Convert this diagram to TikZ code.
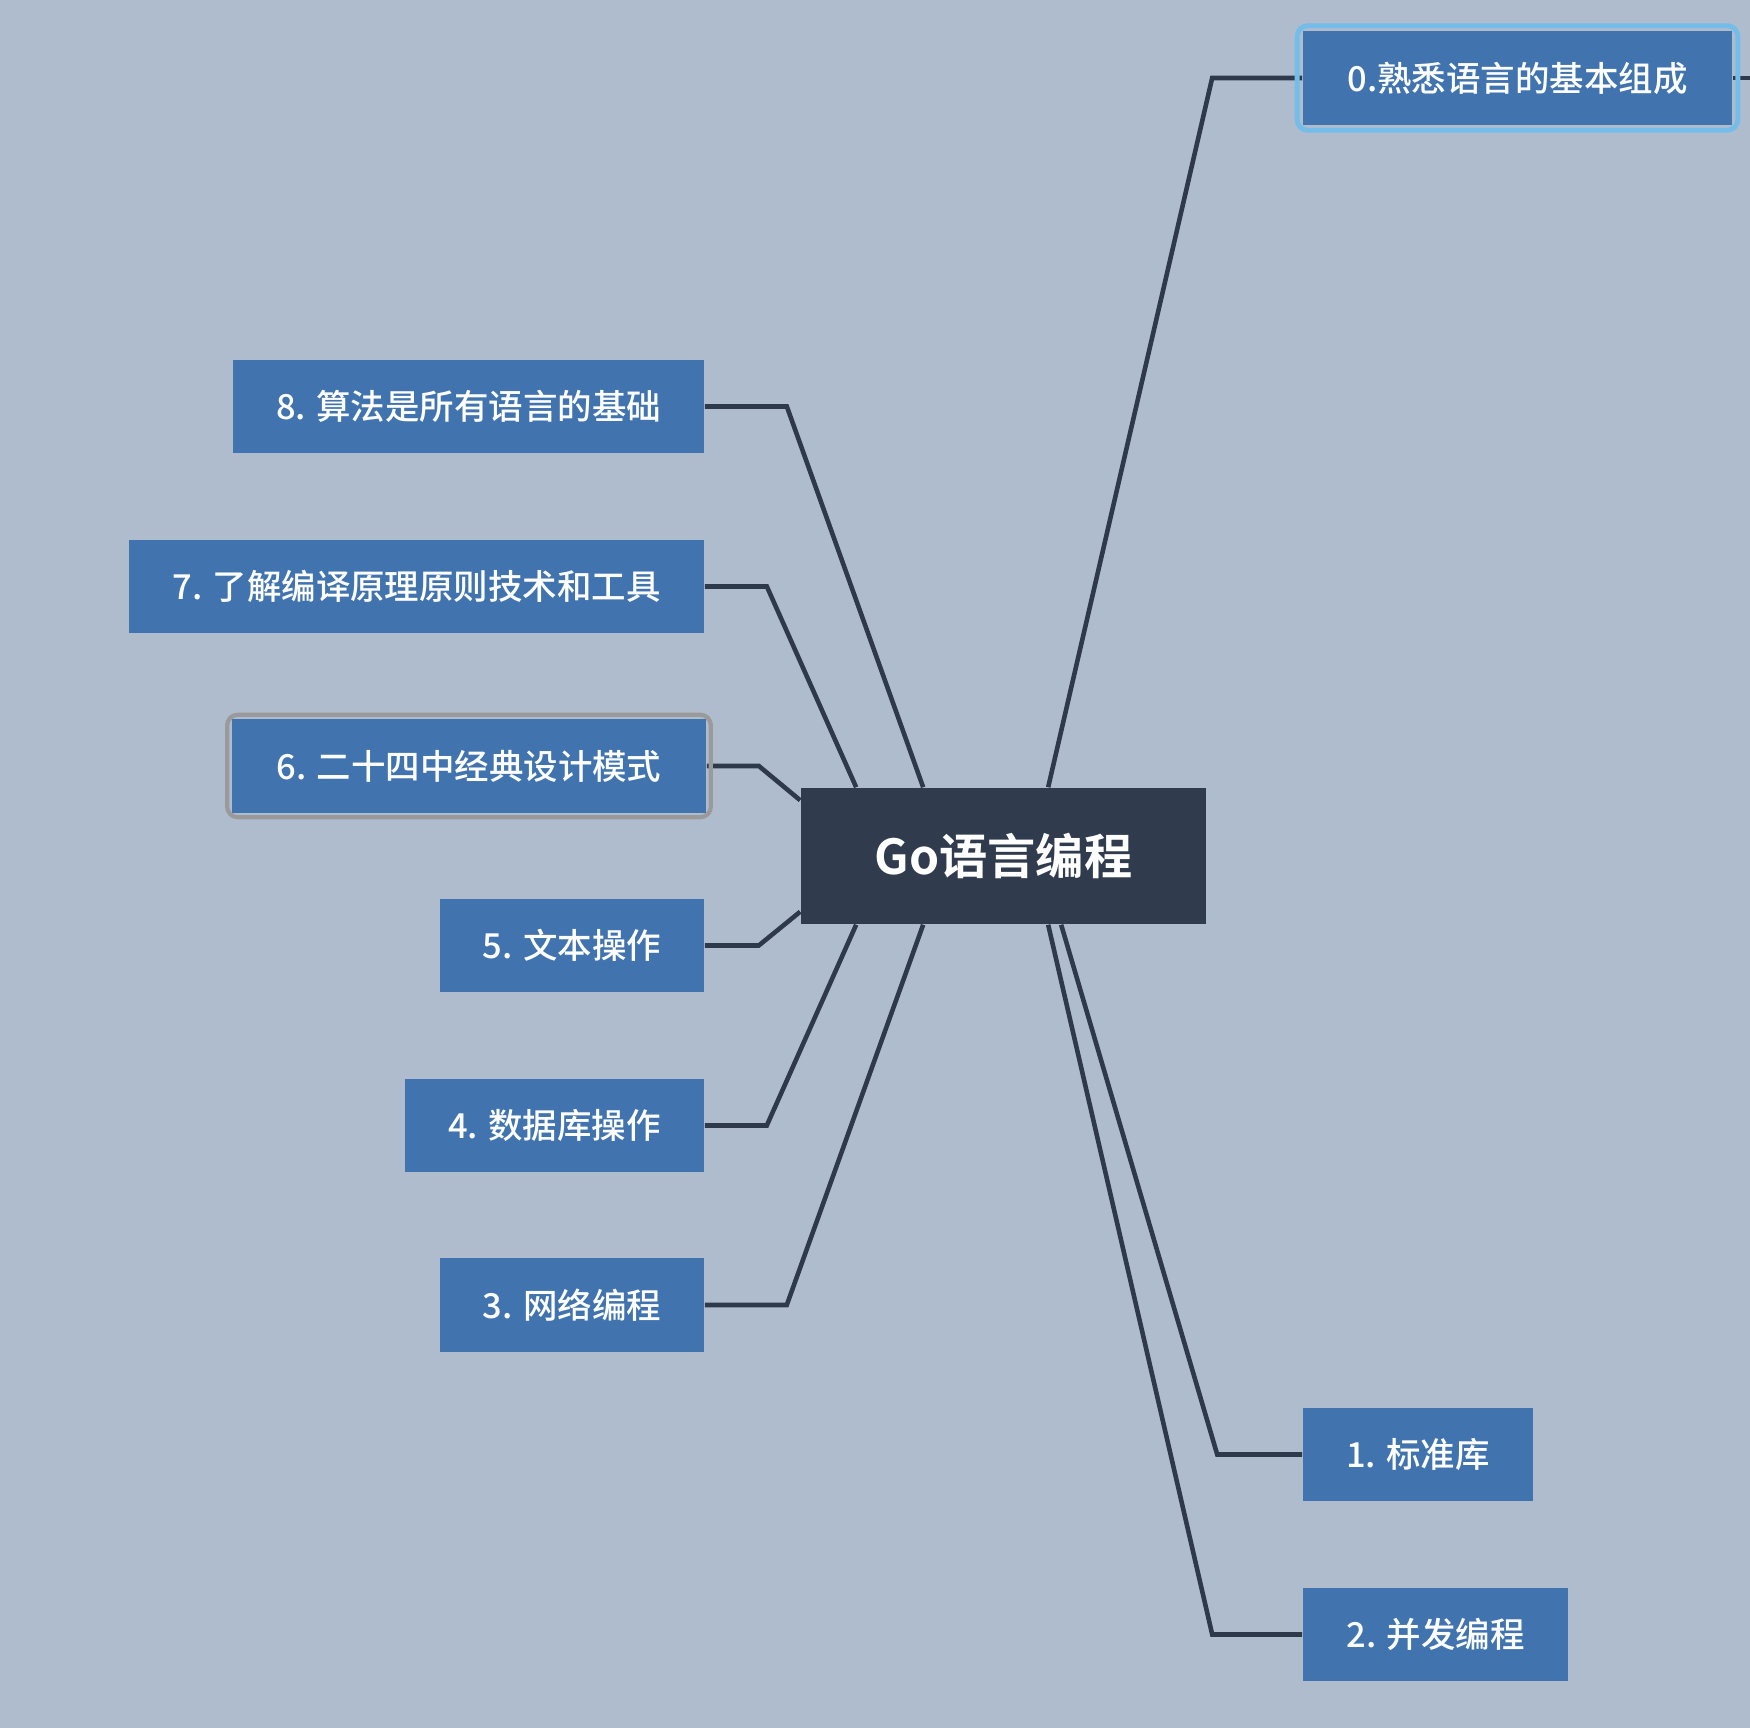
\documentclass[tikz,border=0pt]{standalone}
\usepackage{fontspec}
\setmainfont{Noto Sans CJK SC}[BoldFont={Noto Sans CJK SC Bold}]
\newfontfamily\topicfont{Noto Sans CJK SC Medium}
\usetikzlibrary{calc}
\definecolor{bgcol}{HTML}{AFBCCD}
\definecolor{topicblue}{HTML}{4174AE}
\definecolor{rootdark}{HTML}{303C4D}
\definecolor{linedark}{HTML}{2E3A4B}
\definecolor{selblue}{HTML}{74BDE8}
\definecolor{selgray}{HTML}{9A9A9A}
\begin{document}
\begin{tikzpicture}[x=0.01cm, y=-0.01cm,
            every node/.style = {inner sep=0pt, text=white},
            topic/.style = {fill=topicblue, minimum height=0.93cm,
                font=\topicfont\fontsize{9.8}{12}\selectfont},
            root/.style = {fill=rootdark, minimum width=4.05cm, minimum height=1.36cm,
                font=\fontsize{13.7}{16}\selectfont\bfseries},
            branch/.style = {draw=linedark, line width=1.3pt}]
            \fill[bgcol] (0,0) rectangle (1750,1728);
            \useasboundingbox (0,0) rectangle (1750,1728);
            \clip (0,0) rectangle (1750,1728);
            \node[root] (go) at (1003.5,856) {Go语言编程};
            \node[topic, minimum width=4.29cm] (t0) at (1517.5,78) {0.熟悉语言的基本组成};
            \node[topic, minimum width=2.30cm] (t1) at (1418,1454.5) {1. 标准库};
            \node[topic, minimum width=2.65cm] (t2) at (1435.5,1634.5) {2. 并发编程};
            \node[topic, minimum width=2.64cm] (t3) at (572,1305) {3. 网络编程};
            \node[topic, minimum width=2.99cm] (t4) at (554.5,1125.5) {4. 数据库操作};
            \node[topic, minimum width=2.64cm] (t5) at (572,945.5) {5. 文本操作};
            \node[topic, minimum width=4.74cm] (t6) at (469,766) {6. 二十四中经典设计模式};
            \node[topic, minimum width=5.75cm] (t7) at (416.5,586.5) {7. 了解编译原理原则技术和工具};
            \node[topic, minimum width=4.71cm] (t8) at (468.5,406.5) {8. 算法是所有语言的基础};
            \draw[branch] (t0.west) -- ++(-90,0) -- ($(go.north west)+(248,0)$);
            \draw[branch] (t1.west) -- ++(-85,0) -- ($(go.south west)+(261,0)$);
            \draw[branch] (t2.west) -- ++(-90,0) -- ($(go.south west)+(248,0)$);
            \draw[branch] (t3.east) -- ++(82,0) -- ($(go.south west)+(123,0)$);
            \draw[branch] (t4.east) -- ++(62,0) -- ($(go.south west)+(56,0)$);
            \draw[branch] (t5.east) -- ++(54,0) -- ($(go.south west)+(0,-13)$);
            \draw[branch] (t6.east) -- ++(52,0) -- ($(go.north west)+(0,13)$);
            \draw[branch] (t7.east) -- ++(62,0) -- ($(go.north west)+(56,0)$);
            \draw[branch] (t8.east) -- ++(82,0) -- ($(go.north west)+(123,0)$);
            \draw[branch] (t0.east) -- ++(24,0) coordinate (t0end);
            \draw[branch, fill=bgcol] ($(t0end)+(6,0)$) circle (0.06cm);
            \draw[selblue, line width=1.4pt, rounded corners=3pt]
                ($(t0.north west)+(-5,-5)$) rectangle ($(t0.south east)+(5,5)$);
            \draw[selgray, line width=1.2pt, rounded corners=3pt]
                ($(t6.north west)+(-4,-4)$) rectangle ($(t6.south east)+(4,4)$);
        \end{tikzpicture}
\end{document}
